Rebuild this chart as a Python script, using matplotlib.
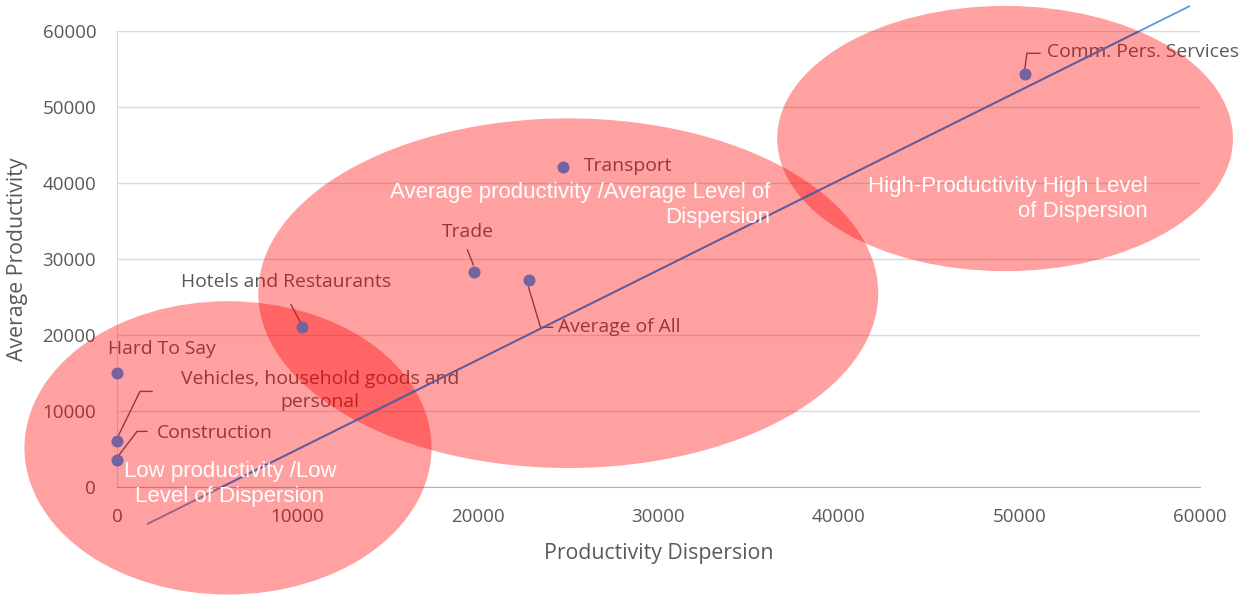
#!/usr/bin/env python3
"""Average productivity vs. productivity dispersion by sector, with grouping ellipses."""
import numpy as np
import matplotlib
matplotlib.use("Agg")
import matplotlib.pyplot as plt
from matplotlib.patches import Ellipse

# Sector values (x = productivity dispersion, y = average productivity)
sectors = [
    "Hard To Say",
    "Vehicles, household goods and\npersonal",
    "Construction",
    "Hotels and Restaurants",
    "Trade",
    "Average of All",
    "Transport",
    "Comm. Pers. Services",
]
dispersion = [0, 0, 0, 10250, 19800, 22800, 24700, 50300]
avg_productivity = [15000, 6000, 3500, 21100, 28300, 27200, 42100, 54300]

# Linear trend drawn across the chart
trend_x = [1700, 59400]
trend_slope = 1.18
trend_intercept = -6850

# Grouping regions: (label lines, centre x, centre y, width, height)
regions = [
    (["Low productivity /Low", "Level of Dispersion"], 6150, 5150, 22550, 38600),
    (["Average productivity /Average Level of", "Dispersion"], 25000, 25500, 34350, 46000),
    (["High-Productivity High Level", "of Dispersion"], 49200, 45850, 25250, 34900),
]

# Label placement: text offset (px), alignment, leader vertices (px from the dot)
label_layout = [
    ((45, 24), "center", []),
    ((203, 51), "center", [(1, 5), (23, 50), (35, 50)]),
    ((40, 27), "left", [(1, 4), (20, 29), (30, 29)]),
    ((-16, 45), "center", [(-2, 5), (-11, 22)]),
    ((-7, 40), "center", [(-1, 7), (-7, 22)]),
    ((29, -47), "left", [(0, -7), (12, -47), (24, -47)]),
    ((21, 1), "left", []),
    ((22, 22), "left", [(0, 6), (2, 21), (15, 21)]),
]
# Region label anchor of the first line (data coords), alignment, line step (px)
region_text = [
    (6250, 2100, "center"),
    (36200, 38800, "right"),
    (57100, 39500, "right"),
]
REGION_LINE_STEP = 25

GRAY = "#595959"
plt.rcParams["font.family"] = ["Open Sans", "DejaVu Sans"]

fig = plt.figure(figsize=(12.47, 5.97), dpi=100)
ax = fig.add_axes([117 / 1247, 1 - 487 / 597, 1083 / 1247, 456 / 597])
ax.set_xlim(0, 60000)
ax.set_ylim(0, 60000)
ax.set_xticks(np.arange(0, 60001, 10000))
ax.set_yticks(np.arange(0, 60001, 10000))
ax.tick_params(length=0, pad=15, labelsize=13.5, labelcolor=GRAY)
ax.set_axisbelow(True)
ax.grid(axis="y", color="#D9D9D9", linewidth=1)
for side in ("top", "right"):
    ax.spines[side].set_visible(False)
ax.spines["left"].set_color("#D9D9D9")
ax.spines["bottom"].set_color("#B3B3B3")

ax.set_xlabel("Productivity Dispersion", fontsize=15.3, color=GRAY)
ax.set_ylabel("Average Productivity", fontsize=15.3, color=GRAY)
ax.xaxis.set_label_coords(0.5, -0.145)
ax.yaxis.set_label_coords(-0.0915, 0.5)
ax.xaxis.label.set_va("center")
ax.yaxis.label.set_va("center")

# Trend line underneath the shaded regions
tx = np.array(trend_x, dtype=float)
ty = trend_slope * tx + trend_intercept
ax.plot(tx, ty, color="#5B9BD5", linewidth=1.3, zorder=2, clip_on=False)

# Sector labels and leader lines
to_data = ax.transData.inverted()
for name, x, y, (off, ha, leader) in zip(sectors, dispersion, avg_productivity, label_layout):
    ax.annotate(name, xy=(x, y), xytext=off, textcoords="offset pixels",
                ha=ha, va="center", fontsize=13.9, color=GRAY, zorder=2,
                annotation_clip=False, multialignment="center", linespacing=1.4)
    if leader:
        base = ax.transData.transform((x, y))
        verts = to_data.transform(base + np.array(leader, dtype=float))
        ax.plot(verts[:, 0], verts[:, 1], color=GRAY, linewidth=1.0,
                zorder=2, clip_on=False)

# Shaded regions
ellipses = []
for lines, cx, cy, w, h in regions:
    e = Ellipse((cx, cy), w, h, facecolor=(1.0, 0.0, 0.0, 0.37),
                edgecolor="none", zorder=3, clip_on=False)
    ax.add_patch(e)
    ellipses.append(e)

# Trend line as seen through the regions
for e in ellipses:
    seg, = ax.plot(tx, ty, color="#5F5CA0", linewidth=1.3, zorder=4)
    seg.set_clip_path(e)

ax.scatter(dispersion, avg_productivity, s=75, color="#73649F",
           zorder=5, clip_on=False, linewidths=0)

# Region captions, one text per line
for (lines, *_), (x, y, ha) in zip(regions, region_text):
    for i, line in enumerate(lines):
        ax.annotate(line, xy=(x, y), xytext=(0, -i * REGION_LINE_STEP),
                    textcoords="offset pixels", ha=ha, va="center",
                    fontsize=16, color="white", annotation_clip=False,
                    family=["Liberation Sans", "DejaVu Sans"], zorder=6)

fig.savefig("out.png", dpi=100)
